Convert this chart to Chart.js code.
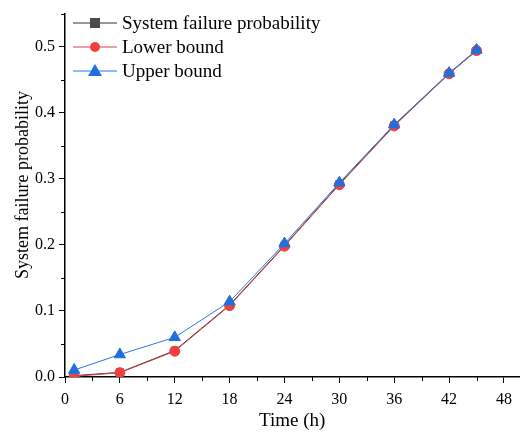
<!DOCTYPE html>
<html><head><meta charset="utf-8">
<script src="https://cdn.jsdelivr.net/npm/chart.js@4"></script>
<style>html,body{margin:0;padding:0;background:#fff}#wrap{width:527px;height:436px}</style>
</head><body><div id="wrap"><canvas id="c"></canvas></div>
<script>
const timeHours = [1, 6, 12, 18, 24, 30, 36, 42, 45];
const systemProb = [0.002, 0.007, 0.040, 0.109, 0.199, 0.292, 0.381, 0.459, 0.494];
const lowerBound = [0.001, 0.0065, 0.039, 0.108, 0.198, 0.291, 0.380, 0.459, 0.494];
const upperBound = [0.0105, 0.034, 0.060, 0.114, 0.202, 0.294, 0.382, 0.460, 0.495];
const xTicks = [0, 6, 12, 18, 24, 30, 36, 42, 48];
const yTicks = [0, 0.1, 0.2, 0.3, 0.4, 0.5];
const seriesNames = ['System failure probability', 'Lower bound', 'Upper bound'];
const xTitle = 'Time (h)';
const yTitle = 'System failure probability';

const FONT = "'Liberation Serif', 'Times New Roman', serif";
const pts = arr => timeHours.map((t, i) => ({x: t, y: arr[i]}));

const legendPlugin = {
  id: 'insideLegend',
  afterDraw(chart) {
    const ctx = chart.ctx;
    const rows = [23, 47, 71];
    chart.data.datasets.forEach((ds, i) => {
      const y = rows[i];
      ctx.save();
      ctx.strokeStyle = ds.borderColor;
      ctx.lineWidth = 1;
      ctx.beginPath(); ctx.moveTo(73, y); ctx.lineTo(117, y); ctx.stroke();
      ctx.fillStyle = ds.pointBackgroundColor;
      const r = ds.pointRadius;
      if (ds.pointStyle === 'rect') {
        ctx.fillRect(95 - 5, y - 5, 10, 10);
      } else if (ds.pointStyle === 'circle') {
        ctx.beginPath(); ctx.arc(95, y, r, 0, Math.PI * 2); ctx.fill();
      } else {
        ctx.beginPath();
        ctx.moveTo(95, y - 7); ctx.lineTo(102, y + 5); ctx.lineTo(88, y + 5); ctx.closePath(); ctx.fill();
      }
      ctx.fillStyle = '#000';
      ctx.font = '19px ' + FONT;
      ctx.textBaseline = 'middle';
      ctx.fillText(ds.label, 122, y + 1);
      ctx.restore();
    });
    // y-axis title
    ctx.save();
    ctx.translate(23, 185);
    ctx.rotate(-Math.PI / 2);
    ctx.fillStyle = '#000';
    ctx.font = '18px ' + FONT;
    ctx.textAlign = 'center';
    ctx.textBaseline = 'middle';
    ctx.fillText(yTitle, 0, 0);
    ctx.restore();
  }
};

const minorTicks = {
  id: 'minorTicks',
  afterDraw(chart) {
    const ctx = chart.ctx;
    const xs = chart.scales.x, ys = chart.scales.y;
    ctx.save();
    ctx.strokeStyle = '#000'; ctx.lineWidth = 1;
    ctx.beginPath();
    for (let v = 3; v < 50; v += 6) {
      const px = Math.round(xs.getPixelForValue(v)) + 0.5;
      ctx.moveTo(px, xs.top); ctx.lineTo(px, xs.top + 4);
    }
    for (let v = 0.05; v < 0.55; v += 0.1) {
      const py = Math.round(ys.getPixelForValue(v)) + 0.5;
      ctx.moveTo(ys.right, py); ctx.lineTo(ys.right - 4, py);
    }
    ctx.stroke();
    ctx.restore();
  }
};

new Chart(document.getElementById('c'), {
  type: 'line',
  data: {
    datasets: [
      {label: seriesNames[0], data: pts(systemProb), borderColor: '#333333', backgroundColor: '#4a4a4a',
       pointBackgroundColor: '#4a4a4a', pointBorderColor: '#4a4a4a', pointStyle: 'rect', pointRadius: 5,
       borderWidth: 1, order: 2},
      {label: seriesNames[1], data: pts(lowerBound), borderColor: '#d9403f', backgroundColor: '#ee4040',
       pointBackgroundColor: '#ee4040', pointBorderColor: '#ee4040', pointStyle: 'circle', pointRadius: 5,
       borderWidth: 1, order: 1},
      {label: seriesNames[2], data: pts(upperBound), borderColor: '#2a78de', backgroundColor: '#1f6fdc',
       pointBackgroundColor: '#1f6fdc', pointBorderColor: '#1f6fdc', pointStyle: 'triangle', pointRadius: 6.5,
       borderWidth: 1, order: 0}
    ]
  },
  options: {
    responsive: true, maintainAspectRatio: false, animation: false,
    layout: {padding: {top: 10, right: 5, left: 0, bottom: 0}},
    plugins: {legend: {display: false}, tooltip: {enabled: false}},
    scales: {
      x: {
        type: 'linear', min: 0, max: 49.7,
        afterBuildTicks: s => { s.ticks = xTicks.map(v => ({value: v})); },
        afterFit: s => { s.height = 59; },
        ticks: {color: '#000', font: {family: FONT, size: 16}, padding: 7, callback: v => String(v)},
        grid: {drawOnChartArea: false, tickLength: 6, color: '#000', tickWidth: 1},
        border: {color: '#000', width: 1.5},
        title: {display: true, text: xTitle, color: '#000', font: {family: FONT, size: 19}, padding: {top: 8}}
      },
      y: {
        type: 'linear', min: 0, max: 0.55,
        afterBuildTicks: s => { s.ticks = yTicks.map(v => ({value: v})); },
        afterFit: s => { s.width = 65; },
        ticks: {color: '#000', font: {family: FONT, size: 16}, padding: 4, callback: v => v.toFixed(1)},
        grid: {drawOnChartArea: false, tickLength: 6, color: '#000', tickWidth: 1},
        border: {color: '#000', width: 1.5},
        title: {display: false}
      }
    }
  },
  plugins: [legendPlugin, minorTicks]
});
</script></body></html>
